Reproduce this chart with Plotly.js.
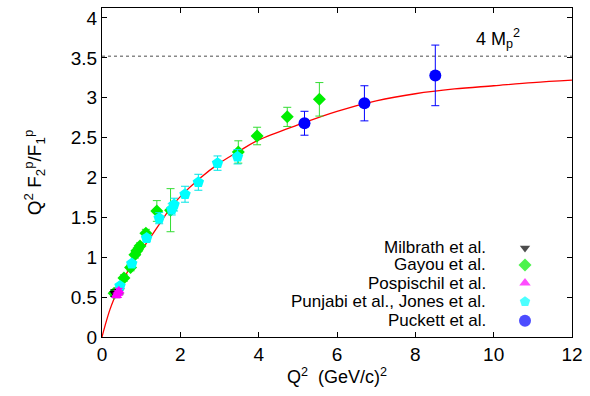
<!DOCTYPE html>
<html>
<head>
<meta charset="utf-8">
<script src="https://cdn.plot.ly/plotly-3.0.1.min.js"></script>
<style>html,body{margin:0;padding:0;background:#fff;}#chart{width:590px;height:396px;}</style>
</head>
<body>
<div id="chart"></div>
<script>
// ---- data ----
const milbrathX = [0.32, 0.45];
const milbrathY = [0.55, 0.58];
const milbrathErr = [0.04, 0.04];

const gayouX = [0.31, 0.56, 0.73, 0.84, 0.89, 0.97, 1.12, 1.40, 1.75, 3.48, 3.96, 4.73, 5.55];
const gayouY = [0.55, 0.74, 0.87, 1.03, 1.08, 1.14, 1.30, 1.58, 1.59, 2.32, 2.52, 2.76, 2.98];
const gayouErr = [0.04, 0.04, 0.04, 0.04, 0.04, 0.04, 0.05, 0.13, 0.27, 0.14, 0.11, 0.12, 0.21];

const pospX = [0.37, 0.40, 0.43];
const pospY = [0.52, 0.55, 0.58];
const pospErr = [0.03, 0.03, 0.03];

const punjabiX = [0.46, 0.76, 1.14, 1.46, 1.78, 1.84, 2.12, 2.46, 2.95, 3.46];
const punjabiY = [0.64, 0.92, 1.24, 1.49, 1.60, 1.66, 1.79, 1.94, 2.18, 2.26];
const punjabiErr = [0.03, 0.03, 0.04, 0.07, 0.07, 0.08, 0.10, 0.10, 0.09, 0.09];

const puckettX = [5.17, 6.70, 8.51];
const puckettY = [2.68, 2.93, 3.28];
const puckettErr = [0.15, 0.22, 0.38];

const fitX = [0, 0.1, 0.2, 0.3, 0.4, 0.5, 0.75, 1.0, 1.25, 1.5, 1.75, 2.0, 2.5, 3.0, 3.5, 4.0, 5.0, 6.0, 7.0, 8.0, 9.0, 10.0, 11.0, 12.0];
const fitY = [0, 0.18, 0.34, 0.47, 0.58, 0.68, 0.90, 1.08, 1.26, 1.44, 1.62, 1.76, 1.99, 2.18, 2.33, 2.47, 2.66, 2.83, 2.96, 3.05, 3.11, 3.15, 3.19, 3.22];

const limitY = 3.52; // 4 Mp^2
const limitLabel = '4 M<sub>p</sub><sup>2</sup>';

const seriesNames = ['Milbrath et al.', 'Gayou et al.', 'Pospischil et al.', 'Punjabi et al., Jones et al.', 'Puckett et al.'];
const xTicks = [0, 2, 4, 6, 8, 10, 12];
const yTicks = [0, 0.5, 1, 1.5, 2, 2.5, 3, 3.5, 4];

// ---- styles ----
const FONT = 'Liberation Sans, Arial, Helvetica, sans-serif';
const colors = ['#000000', '#00ee00', '#ff00ff', '#00ffff', '#0000ff'];
const symbols = ['triangle-down', 'diamond', 'triangle-up', 'pentagon', 'circle'];
const sizes = [9, 10, 10, 12, 12];
const errColors = ['#000000', '#33dd33', '#ff00ff', '#00e5e5', '#0000ff'];

function pts(x, y, e, i) {
  return {
    type: 'scatter', mode: 'markers', x: x, y: y, name: seriesNames[i],
    marker: {color: colors[i], symbol: symbols[i], size: sizes[i], line: {width: 0}},
    error_y: {type: 'data', array: e, visible: true, color: errColors[i], thickness: 1, width: 4},
    showlegend: false, hoverinfo: 'x+y'
  };
}

// legend key positions (layout only)
const legKeyX = 10.8;
const legKeyY = [1.116, 0.903, 0.677, 0.443, 0.204];
const legTextX = 9.85;

const traces = [
  {type: 'scatter', mode: 'lines', x: [0, 12], y: [limitY, limitY], line: {color: '#888888', width: 1.5, dash: 'dot'}, showlegend: false, hoverinfo: 'skip'},
  {type: 'scatter', mode: 'lines', x: fitX, y: fitY, line: {color: '#ff0000', width: 1.3, shape: 'spline'}, showlegend: false, hoverinfo: 'skip'},
  pts(gayouX, gayouY, gayouErr, 1),
  pts(milbrathX, milbrathY, milbrathErr, 0),
  pts(punjabiX, punjabiY, punjabiErr, 3),
  pts(pospX, pospY, pospErr, 2),
  pts(puckettX, puckettY, puckettErr, 4),
  {type: 'scatter', mode: 'markers', x: legKeyY.map(() => legKeyX), y: legKeyY,
   marker: {color: colors, symbol: symbols, size: [9, 10, 10, 11, 12], line: {width: 0}},
   showlegend: false, hoverinfo: 'skip'}
];

const annotations = seriesNames.map((n, i) => ({
  x: legTextX, y: legKeyY[i], xref: 'x', yref: 'y', text: n, showarrow: false,
  xanchor: 'right', yanchor: 'middle', font: {family: FONT, size: 17, color: '#000'}
}));
annotations.push({x: 10.1, y: 3.74, xref: 'x', yref: 'y', text: limitLabel, showarrow: false,
  xanchor: 'center', yanchor: 'middle', font: {family: FONT, size: 18, color: '#000'}});

const axisCommon = {
  showgrid: false, zeroline: false, showline: true, linecolor: '#000', linewidth: 1,
  mirror: 'ticks', ticks: 'inside', ticklen: 5, tickcolor: '#000', tickwidth: 1,
  tickfont: {family: FONT, size: 19, color: '#000'}
};

const layout = {
  width: 590, height: 396,
  margin: {l: 102, r: 18, t: 8, b: 59},
  paper_bgcolor: '#fff', plot_bgcolor: '#fff',
  showlegend: false,
  font: {family: FONT, color: '#000'},
  xaxis: Object.assign({}, axisCommon, {
    range: [0, 12], tickvals: xTicks, ticktext: xTicks.map(String),
    title: {text: 'Q<sup>2</sup>  (GeV/c)<sup>2</sup>', font: {family: FONT, size: 18, color: '#000'}, standoff: 3}
  }),
  yaxis: Object.assign({}, axisCommon, {
    range: [0, 4.125], tickvals: yTicks, ticktext: yTicks.map(String),
    title: {text: 'Q<sup>2</sup> F<sub>2</sub><sup>p</sup>/F<sub>1</sub><sup>p</sup>', font: {family: FONT, size: 19, color: '#000'}, standoff: 24}
  }),
  annotations: annotations
};

Plotly.newPlot('chart', traces, layout, {staticPlot: true, displayModeBar: false});
</script>
</body>
</html>
